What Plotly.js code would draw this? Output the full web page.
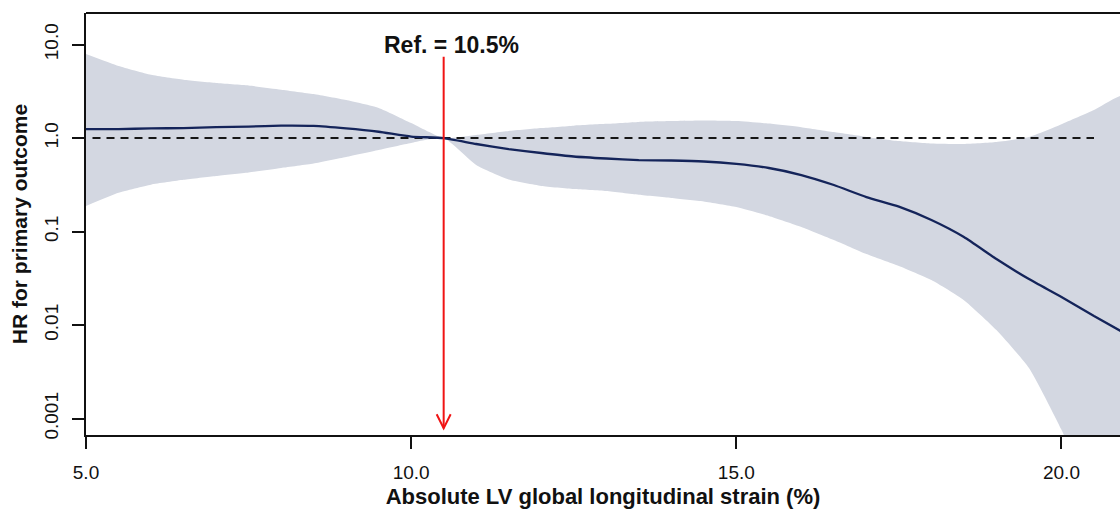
<!DOCTYPE html>
<html><head><meta charset="utf-8">
<script src="https://cdn.plot.ly/plotly-3.0.1.min.js"></script>
<style>html,body{margin:0;padding:0;background:#fff;overflow:hidden}#chart{width:1120px;height:509px}</style>
</head><body><div id="chart"></div>
<script>
// Absolute LV global longitudinal strain (%) grid
const strain = [5.0,5.5,6.0,6.5,7.0,7.5,8.0,8.5,9.0,9.5,10.0,10.5,11.0,11.5,12.0,12.5,13.0,13.5,14.0,14.5,15.0,15.5,16.0,16.5,17.0,17.5,18.0,18.5,19.0,19.5,20.0,20.5,21.0];
// Hazard ratio for primary outcome
const hr = [1.25,1.25,1.27,1.28,1.31,1.33,1.36,1.35,1.27,1.17,1.04,1.0,0.865,0.764,0.693,0.636,0.605,0.583,0.576,0.562,0.529,0.479,0.403,0.315,0.234,0.185,0.133,0.0875,0.0509,0.0311,0.0200,0.0125,0.0080];
// 95% CI upper
const hrUpper = [7.92,5.9,4.75,4.2,3.88,3.65,3.3,2.96,2.55,2.10,1.45,1.0,1.08,1.19,1.28,1.36,1.42,1.49,1.52,1.54,1.52,1.43,1.31,1.16,1.03,0.93,0.875,0.865,0.908,1.03,1.41,2.0,2.89];
// 95% CI lower
const hrLower = [0.188,0.26,0.318,0.358,0.393,0.429,0.479,0.535,0.628,0.746,0.887,1.0,0.515,0.36,0.308,0.286,0.272,0.248,0.229,0.210,0.183,0.147,0.112,0.0813,0.0575,0.0428,0.0303,0.0185,0.00887,0.00348,0.00076,0.00012,0.00002];

const refValue = 10.5;
const refLabel = 'Ref. = 10.5%';
const refLineX = [5.1, 20.5];
const refLineY = [1, 1];
const arrowY = [7.4, 0.00079];
const labelY = 10;

const xTickVals = [5, 10, 15, 20];
const xTickText = ['5.0', '10.0', '15.0', '20.0'];
const yTickVals = [0.001, 0.01, 0.1, 1, 10];
const yTickText = ['0.001', '0.01', '0.1', '1.0', '10.0'];

const xTitle = 'Absolute LV global longitudinal strain (%)';
const yTitle = 'HR for primary outcome';

const bandX = strain.concat(strain.slice().reverse());
const bandY = hrUpper.concat(hrLower.slice().reverse());

const traces = [
  {x: bandX, y: bandY, type: 'scatter', mode: 'lines', fill: 'toself',
   fillcolor: 'rgb(211,215,225)', line: {width: 0, color: 'rgba(0,0,0,0)', shape: 'spline', smoothing: 0.5}, hoverinfo: 'skip'},
  {x: refLineX, y: refLineY, type: 'scatter', mode: 'lines',
   line: {color: '#161616', width: 2, dash: '8px,6px'}},
  {x: strain, y: hr, type: 'scatter', mode: 'lines',
   line: {color: '#14245a', width: 2.3, shape: 'spline', smoothing: 0.5}},
  {x: [refValue, refValue], y: arrowY, type: 'scatter', mode: 'lines',
   line: {color: '#f01414', width: 2}}
];

const axisCommon = {
  ticks: 'outside', ticklen: 12, tickwidth: 2, tickcolor: '#111',
  showline: true, linewidth: 2, linecolor: '#111',
  showgrid: false, zeroline: false
};

const layout = {
  width: 1120, height: 509,
  margin: {l: 86, r: 0, t: 13, b: 74},
  paper_bgcolor: '#fff', plot_bgcolor: '#fff',
  showlegend: false,
  font: {family: '"Liberation Sans", Arial, Helvetica, sans-serif', color: '#111'},
  xaxis: Object.assign({}, axisCommon, {
    range: [5, 20.9], tickmode: 'array', tickvals: xTickVals, ticktext: xTickText,
    tickfont: {size: 19}, ticklabelstandoff: 7,
    title: {text: xTitle, font: {size: 22, weight: 'bold'}, standoff: 8}
  }),
  yaxis: Object.assign({}, axisCommon, {
    type: 'log', range: [-3.175, 1.338], tickmode: 'array', tickvals: yTickVals, ticktext: yTickText,
    tickangle: -90, tickfont: {size: 19}, ticklabelstandoff: 6,
    title: {text: yTitle, font: {size: 21, weight: 'bold'}, standoff: 8}
  }),
  shapes: [
    {type: 'line', xref: 'paper', yref: 'paper', x0: 0, x1: 1, y0: 1, y1: 1,
     line: {color: '#111', width: 2}, layer: 'above'},
    {type: 'path', xref: 'x', yref: 'y', xsizemode: 'pixel', ysizemode: 'pixel',
     xanchor: refValue, yanchor: arrowY[1], path: 'M -7 14 L 0 0 L 7 14',
     line: {color: '#f01414', width: 2}, layer: 'above'}
  ],
  annotations: [
    {x: refValue, y: Math.log10(labelY), xref: 'x', yref: 'y', text: refLabel, showarrow: false,
     xanchor: 'center', yanchor: 'middle', xshift: 8,
     font: {size: 23, weight: 'bold', color: '#111'}}
  ]
};

Plotly.newPlot('chart', traces, layout, {displayModeBar: false, staticPlot: true});
</script>
</body></html>
